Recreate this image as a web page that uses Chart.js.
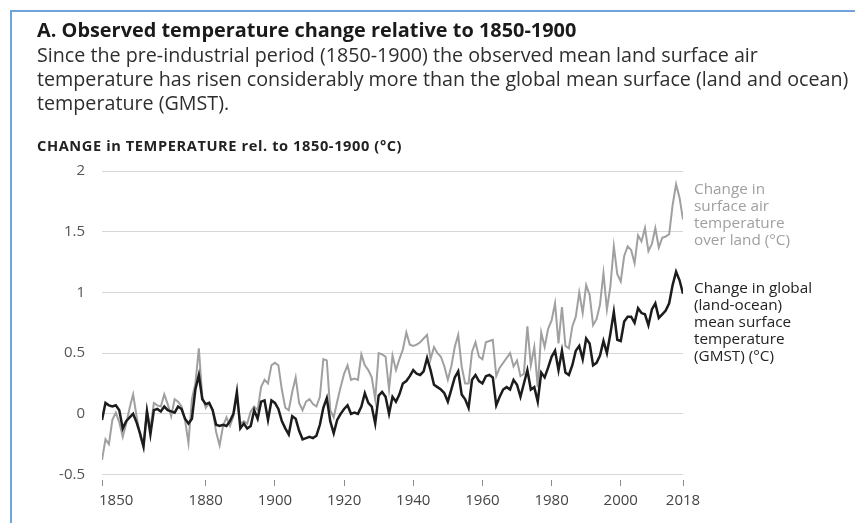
<!DOCTYPE html>
<html>
<head>
<meta charset="utf-8">
<script src="https://cdn.jsdelivr.net/npm/chart.js@4/dist/chart.umd.min.js"></script>
<style>
  html, body { margin: 0; padding: 0; background: #fff; }
  #wrap { position: relative; width: 855px; height: 523px; overflow: hidden; font-family: "Open Sans", Lato, sans-serif; }
  #frame { position: absolute; left: 10px; top: 10px; width: 860px; height: 530px; border-top: 2px solid #6fa3dc; border-left: 2px solid #6fa3dc; }
  .t { position: absolute; white-space: nowrap; }
  #title { left: 37px; top: 17px; font-size: 19.9px; line-height: 26px; font-weight: 700; color: #1a1a1a; }
  .sub { left: 37px; font-size: 19.7px; line-height: 24px; color: #2e2e2e; }
  #ytitle { left: 37px; top: 135px; font-size: 14.6px; line-height: 20px; font-weight: 700; color: #222; letter-spacing: 0.6px; }
  .leg { position: absolute; left: 694px; font-size: 15.3px; line-height: 17px; white-space: nowrap; }
  #legLand { top: 180px; color: #a0a0a0; }
  #legGmst { top: 279px; color: #222; }
  canvas { position: absolute; left: 0; top: 0; }
</style>
</head>
<body>
<div id="wrap">
  <canvas id="c" width="855" height="523"></canvas>
  <div id="frame"></div>
  <div class="t" id="title">A. Observed temperature change relative to 1850-1900</div>
  <div class="t sub" style="top:43px">Since the pre-industrial period (1850-1900) the observed mean land surface air</div>
  <div class="t sub" style="top:67px">temperature has risen considerably more than the global mean surface (land and ocean)</div>
  <div class="t sub" style="top:91px">temperature (GMST).</div>
  <div class="t" id="ytitle">CHANGE in TEMPERATURE rel. to 1850-1900 (°C)</div>
  <div class="leg" id="legLand">Change in<br>surface air<br>temperature<br>over land (°C)</div>
  <div class="leg" id="legGmst">Change in global<br>(land-ocean)<br>mean surface<br>temperature<br>(GMST) (°C)</div>
</div>
<script>
const firstYear = 1850;
const lastYear = 2018;
const years = [];
for (let y = firstYear; y <= lastYear; y++) years.push(y);

const xTickYears = [1850, 1880, 1900, 1920, 1940, 1960, 1980, 2000, 2018];
const yTickValues = [-0.5, 0, 0.5, 1, 1.5, 2];

const gmst = [
  -0.05, 0.09, 0.07, 0.06, 0.07, 0.03, -0.12, -0.06, -0.03, 0.00,
  -0.07, -0.16, -0.27, 0.02, -0.17, 0.03, 0.04, 0.02, 0.06, 0.03,
  0.02, 0.01, 0.06, 0.04, -0.04, -0.08, -0.04, 0.20, 0.32, 0.12,
  0.08, 0.09, 0.03, -0.09, -0.10, -0.09, -0.10, -0.06, 0.00, 0.18,
  -0.12, -0.08, -0.12, -0.10, 0.03, -0.04, 0.10, 0.11, -0.05, 0.11,
  0.09, 0.04, -0.06, -0.12, -0.17, -0.02, -0.04, -0.14, -0.21, -0.20,
  -0.19, -0.20, -0.18, -0.09, 0.05, 0.13, -0.06, -0.16, -0.05, 0.00,
  0.04, 0.07, 0.00, 0.01, 0.00, 0.06, 0.17, 0.09, 0.06, -0.08,
  0.15, 0.18, 0.14, 0.00, 0.14, 0.10, 0.16, 0.25, 0.27, 0.31,
  0.36, 0.33, 0.32, 0.35, 0.46, 0.36, 0.24, 0.22, 0.20, 0.17,
  0.10, 0.20, 0.30, 0.35, 0.16, 0.12, 0.05, 0.28, 0.32, 0.27,
  0.25, 0.31, 0.32, 0.30, 0.07, 0.14, 0.20, 0.22, 0.20, 0.28,
  0.24, 0.14, 0.25, 0.36, 0.20, 0.22, 0.10, 0.34, 0.30, 0.38,
  0.47, 0.52, 0.36, 0.52, 0.34, 0.32, 0.40, 0.52, 0.56, 0.45,
  0.62, 0.58, 0.40, 0.42, 0.48, 0.60, 0.50, 0.66, 0.84, 0.61,
  0.60, 0.76, 0.80, 0.80, 0.75, 0.87, 0.83, 0.82, 0.73, 0.86,
  0.91, 0.79, 0.82, 0.85, 0.91, 1.06, 1.17, 1.10, 0.99
];

const landAir = [
  -0.38, -0.21, -0.25, -0.05, 0.01, -0.07, -0.19, -0.08, 0.05, 0.16,
  -0.02, -0.18, -0.27, 0.03, -0.12, 0.09, 0.07, 0.06, 0.16, 0.08,
  -0.02, 0.12, 0.10, 0.06, -0.05, -0.24, 0.12, 0.25, 0.54, 0.14,
  0.05, 0.09, 0.03, -0.15, -0.26, -0.10, -0.03, -0.10, -0.02, 0.14,
  -0.08, -0.06, -0.08, 0.02, 0.06, 0.03, 0.22, 0.28, 0.25, 0.40,
  0.42, 0.40, 0.20, 0.05, 0.03, 0.18, 0.30, 0.09, 0.03, 0.10,
  0.12, 0.08, 0.06, 0.14, 0.45, 0.44, 0.03, -0.03, 0.10, 0.22,
  0.33, 0.40, 0.28, 0.29, 0.28, 0.49, 0.40, 0.36, 0.30, 0.12,
  0.50, 0.49, 0.47, 0.20, 0.48, 0.36, 0.45, 0.53, 0.67, 0.57,
  0.56, 0.57, 0.59, 0.62, 0.65, 0.45, 0.55, 0.50, 0.47, 0.39,
  0.28, 0.39, 0.55, 0.65, 0.39, 0.25, 0.25, 0.51, 0.59, 0.47,
  0.45, 0.59, 0.60, 0.61, 0.31, 0.38, 0.42, 0.46, 0.50, 0.39,
  0.44, 0.31, 0.33, 0.72, 0.40, 0.55, 0.22, 0.67, 0.55, 0.70,
  0.77, 0.91, 0.58, 0.88, 0.56, 0.54, 0.72, 0.80, 1.00, 0.83,
  1.06, 0.98, 0.73, 0.78, 0.90, 1.16, 0.86, 1.05, 1.38, 1.15,
  1.09, 1.30, 1.38, 1.35, 1.24, 1.47, 1.42, 1.53, 1.34, 1.40,
  1.53, 1.37, 1.45, 1.46, 1.48, 1.72, 1.89, 1.78, 1.60
];

const toPoints = arr => years.map((yr, i) => ({ x: yr, y: arr[i] }));

const firstLabelLeft = {
  id: 'firstLabelLeft',
  beforeDraw(chart) {
    try {
      const s = chart.scales.x;
      const items = s.getLabelItems();
      if (items && items.length) {
        items[0].options.textAlign = 'left';
        items[0].options.translation[0] -= 3;
      }
    } catch (e) {}
  }
};

const tickFont = { family: '"Open Sans", Lato, sans-serif', size: 15 };

new Chart(document.getElementById('c'), {
  type: 'line',
  data: {
    datasets: [
      {
        label: 'Change in global (land-ocean) mean surface temperature (GMST) (°C)',
        data: toPoints(gmst),
        borderColor: '#1c1c1c',
        borderWidth: 2.5,
        pointRadius: 0,
        tension: 0
      },
      {
        label: 'Change in surface air temperature over land (°C)',
        data: toPoints(landAir),
        borderColor: '#a0a0a0',
        borderWidth: 2,
        pointRadius: 0,
        tension: 0
      }
    ]
  },
  options: {
    responsive: false,
    animation: false,
    devicePixelRatio: 1,
    layout: { padding: { left: 0, top: 171, right: 172, bottom: 0 } },
    plugins: { legend: { display: false }, tooltip: { enabled: false } },
    scales: {
      x: {
        type: 'linear',
        min: firstYear,
        max: lastYear,
        afterBuildTicks: s => { s.ticks = xTickYears.map(v => ({ value: v })); },
        afterFit: s => { s.height = 43; },
        border: { display: false },
        grid: { display: true, drawOnChartArea: false, drawTicks: true, tickLength: 6, tickColor: '#8c8c8c', tickWidth: 1 },
        ticks: {
          callback: v => String(v),
          color: '#444',
          padding: 6,
          maxRotation: 0,
          autoSkip: false,
          font: tickFont
        }
      },
      y: {
        min: -0.545,
        max: 2,
        afterBuildTicks: s => { s.ticks = yTickValues.map(v => ({ value: v })); },
        afterFit: s => { s.width = 102; },
        border: { display: false },
        grid: { color: '#d6d6d6', lineWidth: 1, drawTicks: false },
        ticks: {
          callback: v => String(v),
          color: '#555',
          padding: 17,
          font: tickFont
        }
      }
    }
  },
  plugins: [firstLabelLeft]
});
</script>
</body>
</html>
